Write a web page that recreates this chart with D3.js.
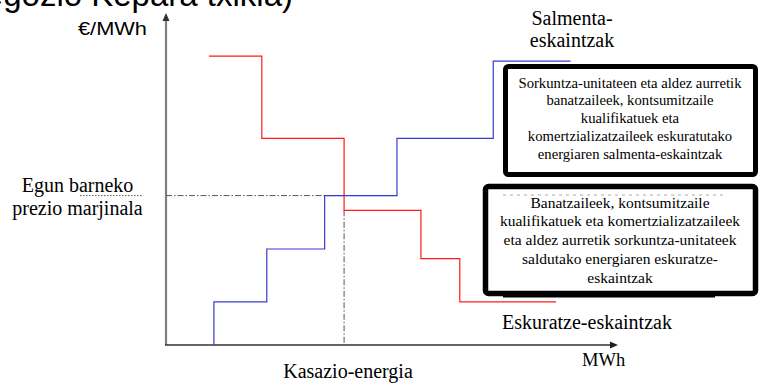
<!DOCTYPE html>
<html><head><meta charset="utf-8">
<script src="https://cdn.jsdelivr.net/npm/d3@7"></script>
<style>
html,body{margin:0;padding:0;background:#fff;overflow:hidden}
</style>
</head><body>
<script>
// Data (quantity in MWh units, price in €/MWh units)
const purchaseQ = [95, 212, 394, 564, 650, 863];       // Eskuratze-eskaintzak (red, step after)
const purchaseP = [96.3, 68.9, 44.9, 28.8, 14.4, 14.4];
const saleQ = [106, 223, 351, 511, 724, 895];          // Salmenta-eskaintzak (blue, step before)
const saleP = [0, 14.4, 32, 49.8, 68.9, 94.6];
const clearingQ = 394;   // Kasazio-energia
const clearingP = 49.8;  // Egun barneko prezio marjinala
const saleBoxLines = ["Sorkuntza-unitateen eta aldez aurretik","banatzaileek, kontsumitzaile","kualifikatuek eta","komertzializatzaileek eskuratutako","energiaren salmenta-eskaintzak"];
const buyBoxLines = ["Banatzaileek, kontsumitzaile","kualifikatuek eta komertzializatzaileek","eta aldez aurretik sorkuntza-unitateek","saldutako energiaren eskuratze-","eskaintzak"];

const W = 760, H = 385;
const svg = d3.select("body").append("svg").attr("width", W).attr("height", H);
const x = d3.scaleLinear().domain([0, 1000]).range([166, 618]);
const y = d3.scaleLinear().domain([0, 100]).range([345, 45]);
const SERIF = '"Liberation Serif"';
const SANS = '"Liberation Sans"';

// cut-off title
svg.append("text").style("font-family", SANS).attr("x", 293).attr("y", 6).attr("text-anchor", "end")
  .attr("font-size", 33).attr("fill", "#000")
  .text("(Negozio Kepara txikia)");

// axes
const x0 = x(0), y0 = y(0);
svg.append("line").attr("x1", x0).attr("y1", y0).attr("x2", x0).attr("y2", 20)
  .attr("stroke", "#808080").attr("stroke-width", 2.2);
svg.append("path").attr("d", `M${x0},13 L${x0-3.5},21 L${x0+3.5},21 Z`).attr("fill", "#333");
svg.append("line").attr("x1", x0 - 1).attr("y1", y0).attr("x2", x(1000) - 7).attr("y2", y0)
  .attr("stroke", "#333").attr("stroke-width", 1.3);
svg.append("path").attr("d", `M${x(1000)},${y0} L${x(1000)-8},${y0-3.5} L${x(1000)-8},${y0+3.5} Z`).attr("fill", "#222");

// clearing guides
const dash = "6,2,1.5,2";
svg.append("line").attr("x1", 80).attr("x2", 143).attr("y1", y(clearingP)).attr("y2", y(clearingP))
  .attr("stroke", "#555").attr("stroke-width", 1).attr("stroke-dasharray", "1.5,1.5");
svg.append("line").attr("x1", x0).attr("x2", x(saleQ[3])).attr("y1", y(clearingP)).attr("y2", y(clearingP))
  .attr("stroke", "#555").attr("stroke-width", 1).attr("stroke-dasharray", dash);
svg.append("line").attr("x1", x(clearingQ)).attr("x2", x(clearingQ)).attr("y1", y(purchaseP[2])).attr("y2", y0)
  .attr("stroke", "#555").attr("stroke-width", 1).attr("stroke-dasharray", dash);

// step curves
const redPts = purchaseQ.map((q, i) => [q, purchaseP[i]]);
const bluePts = saleQ.map((q, i) => [q, saleP[i]]);
svg.append("path").attr("d", d3.line().x(d => x(d[0])).y(d => y(d[1])).curve(d3.curveStepAfter)(redPts))
  .attr("fill", "none").attr("stroke", "#ff1a1a").attr("stroke-width", 1.2);
svg.append("path").attr("d", d3.line().x(d => x(d[0])).y(d => y(d[1])).curve(d3.curveStepBefore)(bluePts))
  .attr("fill", "none").attr("stroke", "#3a3acc").attr("stroke-width", 1.2);

// labels
svg.append("text").style("font-family", SANS).attr("x", 78).attr("y", 35).attr("font-size", 19)
  .attr("textLength", 69).attr("lengthAdjust", "spacingAndGlyphs").text("€/MWh");
const t1 = svg.append("text").style("font-family", SERIF).attr("font-size", 20).attr("text-anchor", "middle");
t1.append("tspan").attr("x", 572).attr("y", 25).text("Salmenta-");
t1.append("tspan").attr("x", 572).attr("y", 47).text("eskaintzak");
const t2 = svg.append("text").style("font-family", SERIF).attr("font-size", 20).attr("text-anchor", "middle");
t2.append("tspan").attr("x", 77.5).attr("y", 192).text("Egun barneko");
t2.append("tspan").attr("x", 77.5).attr("y", 215).text("prezio marjinala");
svg.append("text").style("font-family", SERIF).attr("x", 502).attr("y", 329).attr("font-size", 20).text("Eskuratze-eskaintzak");
svg.append("text").style("font-family", SERIF).attr("x", 582).attr("y", 366).attr("font-size", 18.5).text("MWh");
svg.append("text").style("font-family", SERIF).attr("x", 348).attr("y", 378).attr("text-anchor", "middle").attr("font-size", 20).text("Kasazio-energia");

// boxes
svg.append("line").attr("x1", 503).attr("x2", 715).attr("y1", 296).attr("y2", 296).attr("stroke", "#000").attr("stroke-width", 3);
svg.append("rect").attr("x", 505.5).attr("y", 66.5).attr("width", 250).attr("height", 108).attr("rx", 3)
  .attr("fill", "#fff").attr("stroke", "#000").attr("stroke-width", 5);
svg.append("rect").attr("x", 485.5).attr("y", 186.5).attr("width", 270).attr("height", 107).attr("rx", 3)
  .attr("fill", "#fff").attr("stroke", "#000").attr("stroke-width", 5.5);
svg.append("line").attr("x1", 503).attr("x2", 725).attr("y1", 195).attr("y2", 195)
  .attr("stroke", "#aaa").attr("stroke-width", 1).attr("stroke-dasharray", "3,4");

const b1 = svg.append("text").style("font-family", SERIF).attr("font-size", 14.7).attr("text-anchor", "middle");
saleBoxLines.forEach((s, i) => b1.append("tspan").attr("x", 630).attr("y", 87.7 + i * 17.7).text(s));
const b2 = svg.append("text").style("font-family", SERIF).attr("font-size", 15.5).attr("text-anchor", "middle");
buyBoxLines.forEach((s, i) => b2.append("tspan").attr("x", 620).attr("y", 207.5 + i * 18.8).text(s));
</script>
</body></html>
